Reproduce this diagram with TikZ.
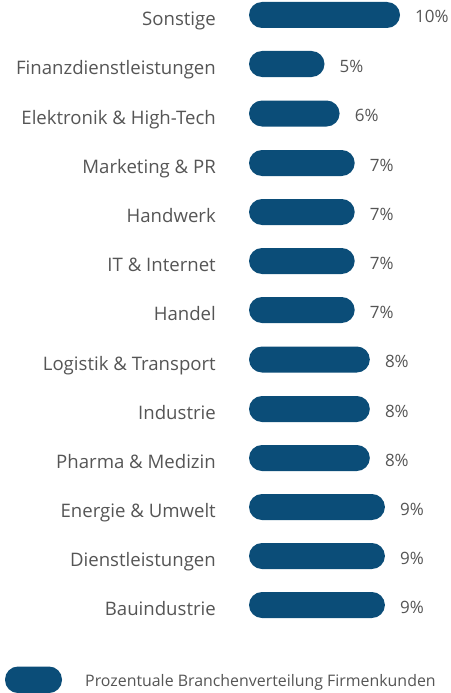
\documentclass[tikz,border=0pt]{standalone}
\usepackage{fontspec}
\setmainfont{Open Sans}
\definecolor{barblue}{RGB}{11,77,120}
\definecolor{txtgray}{RGB}{85,85,85}
\tikzset{
  barpill/.style={fill=barblue, rounded corners=13pt, draw=none},
  catlabel/.style={anchor=base east, text=txtgray, font=\fontsize{18.6}{20}\selectfont, inner sep=0pt},
  pctlabel/.style={anchor=base west, text=txtgray, font=\fontsize{17}{19}\selectfont, inner sep=0pt},
  legtext/.style={anchor=base west, text=txtgray, font=\fontsize{15.9}{17}\selectfont, inner sep=0pt}
}
\begin{document}
\begin{tikzpicture}[x=1pt,y=-1pt]
\useasboundingbox (0,0) rectangle (450,693);
\foreach \i/\lab/\p/\yc in {
  1/Sonstige/10/15,
  2/Finanzdienstleistungen/5/64,
  3/Elektronik \& High-Tech/6/113.5,
  4/Marketing \& PR/7/163,
  5/Handwerk/7/212,
  6/IT \& Internet/7/261,
  7/Handel/7/310,
  8/Logistik \& Transport/8/359.5,
  9/Industrie/8/409,
  10/Pharma \& Medizin/8/458,
  11/Energie \& Umwelt/9/507,
  12/Dienstleistungen/9/556,
  13/Bauindustrie/9/605}{
  \node[catlabel] (lab\i) at (216,\yc+10.5) {\lab};
  \path[barpill] (249,\yc-13) rectangle (249+15.1*\p,\yc+13);
  \coordinate (end\i) at (249+15.1*\p,\yc);
  \node[pctlabel] (pct\i) at ([xshift=15pt,yshift=-8pt]end\i) {\p\%};
}
\path[barpill] (5,666.5) rectangle (62,693);
\node[legtext] (leg) at (85,686) {Prozentuale Branchenverteilung Firmenkunden};
\end{tikzpicture}
\end{document}
